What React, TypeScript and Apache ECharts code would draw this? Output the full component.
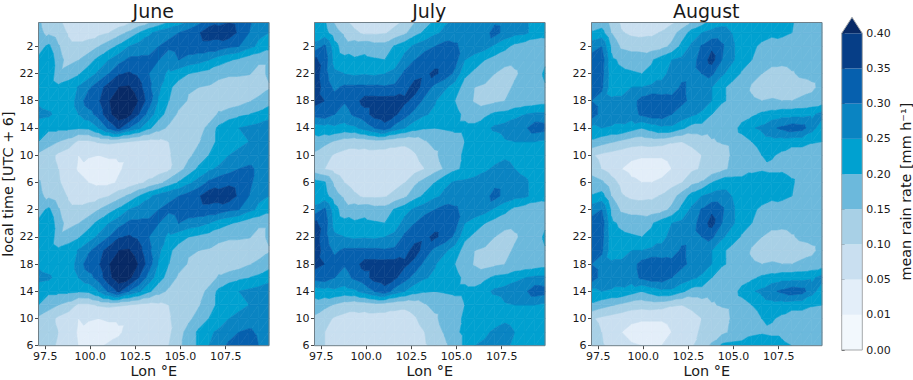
import React, { useEffect, useRef } from "react";
import * as echarts from "echarts";

// Mean rain rate (mm/h), one diurnal cycle per month.
// Each row is one local-time step (2 h), rising from the bottom of the panel; the
// 13th row is the end of the cycle. Columns run west to east across lonColumns.
const lonColumns = [97.13,97.69,98.24,98.8,99.35,99.91,100.46,101.02,101.57,102.13,102.68,103.24,103.79,104.35,104.9,105.46,106.01,106.57,107.12,107.68,108.23,108.79,109.34,109.9];
const juneRows = [
[.13,.12,.09,.07,.05,.04,.045,.055,.06,.065,.07,.07,.08,.10,.14,.17,.21,.25,.28,.31,.33,.33,.30,.28],
[.13,.12,.10,.07,.045,.03,.03,.035,.045,.06,.07,.07,.075,.09,.13,.17,.21,.24,.26,.28,.30,.31,.29,.27],
[.14,.12,.09,.07,.05,.055,.05,.055,.055,.055,.065,.07,.08,.095,.12,.14,.17,.20,.22,.25,.26,.27,.27,.27],
[.20,.17,.15,.13,.09,.09,.105,.11,.105,.10,.09,.085,.09,.10,.12,.14,.145,.18,.21,.23,.24,.25,.26,.27],
[.21,.21,.21,.21,.205,.21,.25,.31,.36,.30,.26,.21,.17,.14,.12,.115,.12,.17,.21,.23,.25,.26,.27,.28],
[.27,.26,.23,.22,.25,.28,.32,.385,.43,.415,.35,.28,.22,.18,.14,.12,.115,.11,.16,.18,.19,.20,.21,.23],
[.24,.22,.21,.22,.27,.33,.345,.395,.44,.44,.395,.325,.245,.20,.17,.145,.13,.12,.115,.11,.125,.145,.165,.18],
[.22,.235,.21,.22,.255,.29,.33,.37,.40,.405,.37,.31,.26,.21,.18,.155,.15,.145,.125,.115,.11,.105,.12,.145],
[.22,.25,.16,.18,.195,.225,.26,.30,.345,.355,.34,.30,.27,.24,.22,.20,.19,.18,.17,.16,.16,.155,.13,.16],
[.21,.24,.17,.13,.15,.18,.215,.25,.28,.31,.31,.31,.30,.27,.30,.28,.27,.25,.22,.205,.19,.17,.16,.16],
[.18,.21,.155,.11,.11,.12,.15,.18,.21,.25,.27,.28,.30,.31,.32,.33,.33,.33,.33,.31,.30,.265,.24,.215],
[.16,.14,.12,.095,.08,.08,.085,.10,.13,.16,.20,.24,.27,.29,.30,.32,.345,.38,.37,.38,.34,.30,.26,.25],
[.155,.13,.105,.08,.065,.05,.04,.04,.055,.07,.09,.11,.135,.17,.205,.24,.27,.31,.33,.34,.33,.31,.28,.27],
];
const julyRows = [
[.11,.10,.095,.085,.075,.07,.07,.07,.075,.08,.085,.095,.11,.14,.17,.21,.25,.26,.26,.26,.24,.23,.23,.23],
[.12,.10,.08,.06,.06,.06,.05,.06,.06,.065,.08,.10,.13,.155,.19,.21,.22,.24,.26,.27,.25,.235,.22,.22],
[.14,.115,.095,.085,.085,.08,.08,.08,.08,.08,.095,.12,.14,.17,.19,.205,.21,.21,.225,.24,.23,.22,.22,.22],
[.18,.165,.145,.125,.115,.12,.13,.125,.115,.11,.12,.145,.165,.17,.18,.20,.21,.215,.22,.245,.25,.25,.25,.24],
[.22,.23,.24,.23,.24,.27,.30,.33,.28,.25,.22,.205,.20,.205,.21,.21,.21,.235,.26,.27,.28,.29,.33,.32],
[.32,.33,.30,.28,.31,.33,.37,.38,.36,.32,.28,.255,.24,.22,.215,.19,.18,.19,.21,.215,.235,.25,.26,.26],
[.37,.35,.32,.305,.33,.37,.37,.37,.37,.36,.335,.285,.255,.22,.20,.17,.145,.13,.14,.15,.16,.165,.17,.18],
[.38,.33,.29,.31,.31,.31,.31,.305,.31,.33,.37,.33,.285,.26,.225,.18,.15,.145,.135,.14,.155,.16,.165,.195],
[.38,.32,.26,.25,.24,.245,.24,.25,.265,.31,.33,.34,.36,.33,.29,.21,.19,.165,.15,.135,.145,.16,.17,.21],
[.36,.33,.23,.215,.205,.21,.205,.20,.22,.27,.30,.33,.33,.33,.32,.25,.22,.20,.18,.165,.16,.165,.17,.19],
[.27,.31,.22,.17,.18,.185,.17,.17,.205,.23,.26,.28,.30,.32,.31,.28,.29,.27,.24,.215,.185,.17,.165,.17],
[.21,.22,.17,.14,.11,.09,.09,.095,.115,.14,.18,.21,.24,.26,.27,.27,.27,.28,.32,.28,.265,.26,.23,.22],
[.22,.205,.14,.10,.075,.06,.055,.06,.08,.10,.14,.17,.20,.24,.255,.26,.27,.28,.285,.28,.27,.26,.23,.22],
];
const augustRows = [
[.12,.105,.09,.07,.055,.05,.05,.05,.065,.08,.095,.12,.16,.21,.215,.22,.225,.23,.225,.21,.20,.175,.17,.17],
[.12,.10,.075,.05,.035,.03,.03,.03,.05,.07,.09,.105,.115,.135,.16,.165,.19,.195,.19,.19,.175,.17,.17,.17],
[.105,.09,.08,.07,.06,.055,.055,.055,.065,.075,.085,.10,.11,.125,.155,.165,.17,.20,.205,.19,.17,.17,.17,.17],
[.19,.17,.155,.14,.125,.12,.125,.12,.105,.10,.11,.125,.145,.155,.16,.175,.20,.225,.23,.225,.22,.22,.205,.20],
[.24,.25,.24,.24,.22,.20,.22,.24,.24,.21,.18,.18,.17,.165,.17,.22,.245,.26,.29,.31,.33,.32,.27,.22],
[.33,.28,.30,.27,.275,.31,.33,.33,.30,.28,.26,.24,.20,.16,.165,.17,.19,.21,.22,.23,.23,.23,.24,.27],
[.30,.28,.26,.26,.275,.32,.34,.33,.32,.31,.29,.28,.25,.21,.185,.165,.155,.15,.155,.15,.15,.16,.165,.17],
[.33,.31,.22,.23,.25,.25,.26,.26,.27,.31,.285,.28,.25,.21,.185,.175,.145,.135,.125,.125,.125,.13,.14,.165],
[.34,.32,.22,.21,.205,.20,.21,.24,.26,.28,.285,.30,.31,.26,.225,.195,.165,.15,.135,.13,.145,.16,.165,.17],
[.32,.33,.21,.19,.18,.175,.195,.225,.25,.26,.28,.32,.37,.30,.26,.22,.20,.18,.165,.165,.17,.17,.17,.17],
[.28,.30,.19,.14,.13,.13,.125,.135,.16,.215,.26,.305,.34,.31,.26,.225,.21,.19,.18,.17,.17,.17,.17,.17],
[.205,.22,.15,.105,.09,.085,.09,.105,.13,.17,.22,.25,.265,.27,.25,.22,.22,.22,.21,.215,.20,.17,.17,.17],
[.18,.16,.12,.085,.06,.05,.05,.06,.08,.10,.135,.155,.20,.225,.225,.225,.22,.225,.225,.23,.21,.17,.17,.17],
];
const levels = [0, 0.01, 0.05, 0.1, 0.15, 0.2, 0.25, 0.3, 0.35, 0.4];
const levelLabels = ["0.00", "0.01", "0.05", "0.10", "0.15", "0.20", "0.25", "0.30", "0.35", "0.40"];
const colors = ["#f2f8fd", "#e3eef9", "#c9dff0", "#a8d0e6", "#6cb9dc", "#00a1d0", "#0a84c2", "#0660ae", "#063e87", "#082a66"];
const months = ["June", "July", "August"];
const lonTicks = [97.5, 100, 102.5, 105, 107.5];
const FONT = "DejaVu Sans";
const INK = "#1a1a1a";
const FRAME = "#6f7f88";
const panelLefts = [38.5, 314.5, 591.5];
const PANEL_W = 230.5;
const PANEL_TOP = 22.5;
const PANEL_H = 323.2;

type P = { x: number; y: number; v: number };

function clip(poly: P[], lv: number, above: boolean): P[] {
  const inside = (q: P) => (above ? q.v >= lv : q.v <= lv);
  const out: P[] = [];
  for (let i = 0; i < poly.length; i++) {
    const a = poly[i];
    const b = poly[(i + 1) % poly.length];
    if (inside(a)) out.push(a);
    if (inside(a) !== inside(b)) {
      const t = (lv - a.v) / (b.v - a.v);
      out.push({ x: a.x + (b.x - a.x) * t, y: a.y + (b.y - a.y) * t, v: lv });
    }
  }
  return out;
}

function cellsOf(rows: number[][]) {
  // Two cycles stacked: hours 0..22, then the end-of-cycle row, then 2..22 again.
  const seq = [...rows.slice(0, 12), rows[12], ...rows.slice(1, 12), rows[12]];
  const cells: number[][] = [];
  for (let r = 0; r + 1 < seq.length; r++) {
    for (let c = 0; c + 1 < lonColumns.length; c++) {
      cells.push([lonColumns[c], r * 2, lonColumns[c + 1], (r + 1) * 2, seq[r][c], seq[r][c + 1], seq[r + 1][c + 1], seq[r + 1][c]]);
    }
  }
  return cells;
}

const renderCell = (_p: any, api: any) => {
  const x0 = api.value(0), y0 = api.value(1), x1 = api.value(2), y1 = api.value(3);
  const c = [api.coord([x0, y0]), api.coord([x1, y0]), api.coord([x1, y1]), api.coord([x0, y1])];
  const pt = (i: number): P => ({ x: c[i][0], y: c[i][1], v: api.value(4 + i) });
  const tris = [[pt(0), pt(1), pt(2)], [pt(0), pt(2), pt(3)]];
  const children: any[] = [];
  for (const tri of tris) {
    for (let k = 0; k < levels.length; k++) {
      let poly = clip(tri, levels[k], true);
      if (k + 1 < levels.length && poly.length >= 3) poly = clip(poly, levels[k + 1], false);
      if (poly.length < 3) continue;
      children.push({
        type: "polygon",
        shape: { points: poly.map((q) => [q.x, q.y]) },
        style: { fill: colors[k], stroke: colors[k], lineWidth: 0.6 },
        silent: true,
      });
    }
  }
  return { type: "group", children };
};

const renderBar = (_p: any, api: any) => {
  const k = api.value(0);
  const a = api.coord([0, k]);
  const b = api.coord([1, k + 1]);
  if (k === 9) {
    const tip = api.coord([0.5, 9.455]);
    return {
      type: "polygon",
      shape: { points: [[a[0], a[1]], [b[0], a[1]], [tip[0], tip[1]]] },
      style: { fill: colors[9] },
    };
  }
  return { type: "rect", shape: { x: a[0], y: b[1], width: b[0] - a[0], height: a[1] - b[1] }, style: { fill: colors[k] } };
};

export default function App() {
  const ref = useRef<HTMLDivElement>(null);
  useEffect(() => {
    const chart = echarts.init(ref.current!, null, { renderer: "svg" });
    const monthRows = [juneRows, julyRows, augustRows];
    const grids: any[] = panelLefts.map((l) => ({ left: l, top: PANEL_TOP, width: PANEL_W, height: PANEL_H, show: false, outerBoundsMode: "none" }));
    grids.push({ left: 841.7, top: 33.3, width: 20.6, height: 316.7, show: false, outerBoundsMode: "none" });
    const xAxes: any[] = panelLefts.map((_, i) => ({
      type: "value", gridIndex: i, min: 97.13, max: 109.9,
      name: "Lon °E", nameLocation: "middle", nameGap: 18, nameMoveOverlap: false,
      nameTextStyle: { fontFamily: FONT, fontSize: 14.4, color: INK, verticalAlign: "top", lineHeight: 15 },
      axisLine: { show: false }, splitLine: { show: false },
      axisTick: { show: true, length: 3.5, customValues: lonTicks, lineStyle: { color: INK, width: 0.8 } },
      axisLabel: { customValues: lonTicks, formatter: (v: number) => v.toFixed(1), fontFamily: FONT, fontSize: 11, color: INK, margin: 5 },
    }));
    xAxes.push({ type: "value", gridIndex: 3, min: 0, max: 1, show: false });
    const yAxes: any[] = panelLefts.map((_, i) => ({
      type: "value", gridIndex: i, min: 0, max: 47.5, interval: 4,
      name: i === 0 ? "local time [UTC + 6]" : "", nameLocation: "middle", nameGap: 24, nameRotate: 90,
      nameTextStyle: { fontFamily: FONT, fontSize: 14.4, color: INK },
      axisLine: { show: false }, splitLine: { show: false },
      axisTick: { show: true, length: 3.5, lineStyle: { color: INK, width: 0.8 } },
      axisLabel: { formatter: (h: number) => (h % 4 === 0 ? String((6 + h) % 24) : ""), fontFamily: FONT, fontSize: 11, color: INK, margin: 5, showMinLabel: true, showMaxLabel: false },
    }));
    yAxes.push({
      type: "value", gridIndex: 3, min: 0, max: 9, interval: 1, position: "right",
      name: "mean rain rate [mm h⁻¹]", nameLocation: "middle", nameGap: 37, nameRotate: 90,
      nameTextStyle: { fontFamily: FONT, fontSize: 14.4, color: INK },
      axisLine: { show: false }, splitLine: { show: false },
      axisTick: { show: true, length: 3, lineStyle: { color: INK, width: 0.8 } },
      axisLabel: { formatter: (k: number) => levelLabels[k], fontFamily: FONT, fontSize: 11, color: INK, margin: 4 },
    });
    const series: any[] = monthRows.map((rows, i) => ({
      type: "custom", xAxisIndex: i, yAxisIndex: i, clip: true, silent: true,
      renderItem: renderCell, data: cellsOf(rows), encode: { x: 0, y: 1 },
    }));
    series.push({
      type: "custom", xAxisIndex: 3, yAxisIndex: 3, silent: true, clip: false,
      renderItem: renderBar, data: levels.map((_, k) => [k]), encode: { y: 0 },
    });
    const titles = panelLefts.map((l, i) => ({
      type: "text", x: l + PANEL_W / 2 - 0.5, y: 11, silent: true, z: 20,
      style: { text: months[i], fontFamily: FONT, fontSize: 19, fill: INK, textAlign: "center", verticalAlign: "middle" },
    }));
    const frames = panelLefts.map((l) => ({
      type: "rect", silent: true, z: 10,
      shape: { x: l, y: PANEL_TOP, width: PANEL_W, height: PANEL_H },
      style: { fill: "none", stroke: FRAME, lineWidth: 1 },
    }));
    const barFrame = {
      type: "polygon", silent: true, z: 10,
      shape: { points: [[841.7, 350], [862.3, 350], [862.3, 33.3], [852, 17.3], [841.7, 33.3]] },
      style: { fill: "none", stroke: "#a5a8aa", lineWidth: 1 },
    };
    chart.setOption({
      animation: false,
      backgroundColor: "#ffffff",
      graphic: [...frames, barFrame, ...titles],
      grid: grids, xAxis: xAxes, yAxis: yAxes, series,
    });
    return () => chart.dispose();
  }, []);
  return <div ref={ref} style={{ position: "absolute", left: 0, top: 0, width: 913, height: 380 }} />;
}
